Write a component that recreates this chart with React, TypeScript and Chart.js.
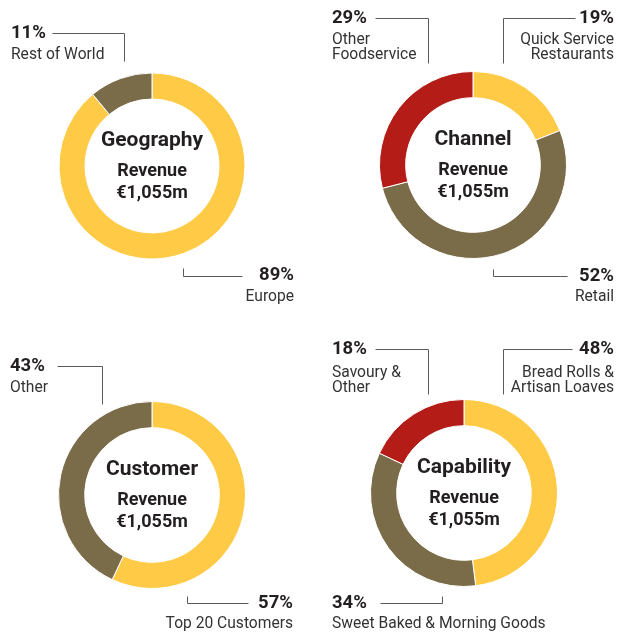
import React, { useEffect, useRef } from "react";
import { Chart, registerables } from "chart.js";

Chart.register(...registerables);

// ---------- Data ----------
const revenueText = "€1,055m";

const geographyLabels = ["Europe", "Rest of World"];
const geographyValues = [89, 11];

const channelLabels = ["Quick Service Restaurants", "Retail", "Other Foodservice"];
const channelValues = [19, 52, 29];

const customerLabels = ["Top 20 Customers", "Other"];
const customerValues = [57, 43];

const capabilityLabels = ["Bread Rolls & Artisan Loaves", "Sweet Baked & Morning Goods", "Savoury & Other"];
const capabilityValues = [48, 34, 18];

// ---------- Styles ----------
const YELLOW = "#FFCB47";
const BROWN = "#7A6C48";
const RED = "#B41C18";
const TEXT = "#231F20";
const LABEL = "#333333";
const LINE = "#5A5A5A";
const FONT = 'Roboto, "Liberation Sans", Arial, sans-serif';

type Callout = {
  index: number;
  align: "left" | "right";
  x: number;
  pctY: number;
  lines: string[];
  labelY: number;
  path: number[][];
};

type DonutSpec = {
  title: string;
  labels: string[];
  values: number[];
  colors: string[];
  left: number;
  top: number;
  cx: number;
  cy: number;
  r: number;
  callouts: Callout[];
};

const W = 315;
const H = 316;

const specs: DonutSpec[] = [
  {
    title: "Geography",
    labels: geographyLabels,
    values: geographyValues,
    colors: [YELLOW, BROWN],
    left: 0,
    top: 0,
    cx: 152,
    cy: 166,
    r: 93.5,
    callouts: [
      { index: 1, align: "left", x: 11, pctY: 33, lines: ["Rest of World"], labelY: 55, path: [[52, 33], [124, 33], [124, 61]] },
      { index: 0, align: "right", x: 294, pctY: 275, lines: ["Europe"], labelY: 297, path: [[183, 268], [183, 276], [242, 276]] },
    ],
  },
  {
    title: "Channel",
    labels: channelLabels,
    values: channelValues,
    colors: [YELLOW, BROWN, RED],
    left: 315,
    top: 0,
    cx: 158,
    cy: 165,
    r: 94,
    callouts: [
      { index: 2, align: "left", x: 17, pctY: 18, lines: ["Other", "Foodservice"], labelY: 40, path: [[60, 18], [113, 18], [113, 63]] },
      { index: 0, align: "right", x: 299, pctY: 18, lines: ["Quick Service", "Restaurants"], labelY: 40, path: [[260, 18], [188, 18], [188, 63]] },
      { index: 1, align: "right", x: 299, pctY: 276, lines: ["Retail"], labelY: 297, path: [[178, 269], [178, 276], [252, 276]] },
    ],
  },
  {
    title: "Customer",
    labels: customerLabels,
    values: customerValues,
    colors: [YELLOW, BROWN],
    left: 0,
    top: 316,
    cx: 152,
    cy: 179,
    r: 94,
    callouts: [
      { index: 1, align: "left", x: 10, pctY: 50, lines: ["Other"], labelY: 72, path: [[57, 50], [102, 50], [102, 88]] },
      { index: 0, align: "right", x: 293, pctY: 287, lines: ["Top 20 Customers"], labelY: 308, path: [[187, 280], [187, 287], [248, 287]] },
    ],
  },
  {
    title: "Capability",
    labels: capabilityLabels,
    values: capabilityValues,
    colors: [YELLOW, BROWN, RED],
    left: 315,
    top: 316,
    cx: 149,
    cy: 177,
    r: 94,
    callouts: [
      { index: 2, align: "left", x: 17, pctY: 33, lines: ["Savoury &", "Other"], labelY: 57, path: [[60, 33], [113, 33], [113, 78]] },
      { index: 0, align: "right", x: 299, pctY: 33, lines: ["Bread Rolls &", "Artisan Loaves"], labelY: 57, path: [[257, 33], [188, 33], [188, 78]] },
      { index: 1, align: "left", x: 17, pctY: 287, lines: ["Sweet Baked & Morning Goods"], labelY: 308, path: [[65, 287], [127, 287], [127, 280]] },
    ],
  },
];

function Donut({ spec }: { spec: DonutSpec }) {
  const ref = useRef<HTMLCanvasElement | null>(null);

  useEffect(() => {
    if (!ref.current) return;
    const s = spec;
    const annotate = {
      id: "annotate",
      afterDraw(chart: any) {
        const ctx = chart.ctx as CanvasRenderingContext2D;
        const meta = chart.getDatasetMeta(0);
        const arc = meta.data[0] as any;
        const cx = arc.x;
        const cy = arc.y;
        ctx.save();
        // center text
        ctx.fillStyle = TEXT;
        ctx.textAlign = "center";
        ctx.textBaseline = "middle";
        ctx.font = `bold 21px ${FONT}`;
        ctx.fillText(s.title, cx, cy - 25);
        ctx.font = `bold 18px ${FONT}`;
        ctx.fillText("Revenue", cx, cy + 5);
        ctx.fillText(revenueText, cx, cy + 27);

        // callouts
        for (const c of s.callouts) {
          ctx.strokeStyle = LINE;
          ctx.lineWidth = 1;
          ctx.beginPath();
          c.path.forEach((p, i) => {
            const px = Math.round(p[0]) + 0.5;
            const py = Math.round(p[1]) + 0.5;
            if (i === 0) ctx.moveTo(px, py);
            else ctx.lineTo(px, py);
          });
          ctx.stroke();

          ctx.textAlign = c.align;
          ctx.textBaseline = "middle";
          ctx.fillStyle = TEXT;
          ctx.font = `bold 18.5px ${FONT}`;
          ctx.fillText(`${s.values[c.index]}%`, c.x, c.pctY);
          ctx.fillStyle = LABEL;
          ctx.font = `15.6px ${FONT}`;
          c.lines.forEach((ln, i) => {
            ctx.fillText(ln, c.x, c.labelY + i * 15);
          });
        }
        ctx.restore();
      },
    };

    const chart = new Chart(ref.current, {
      type: "doughnut",
      data: {
        labels: s.labels,
        datasets: [
          {
            data: s.values,
            backgroundColor: s.colors,
            borderColor: "#ffffff",
            borderWidth: 1,
          },
        ],
      },
      options: {
        animation: false,
        responsive: false,
        maintainAspectRatio: false,
        devicePixelRatio: 1,
        cutout: "72%",
        layout: {
          padding: {
            left: s.cx - s.r,
            right: W - s.cx - s.r,
            top: s.cy - s.r,
            bottom: H - s.cy - s.r,
          },
        },
        plugins: {
          legend: { display: false },
          tooltip: { enabled: false },
          title: { display: false },
        },
      },
      plugins: [annotate],
    } as any);
    return () => chart.destroy();
  }, [spec]);

  return (
    <canvas
      ref={ref}
      width={W}
      height={H}
      style={{ position: "absolute", left: spec.left, top: spec.top, width: W, height: H }}
    />
  );
}

export default function App() {
  return (
    <div style={{ position: "fixed", left: 0, top: 0, width: 630, height: 632, background: "#ffffff" }}>
      {specs.map((s) => (
        <Donut key={s.title} spec={s} />
      ))}
    </div>
  );
}
